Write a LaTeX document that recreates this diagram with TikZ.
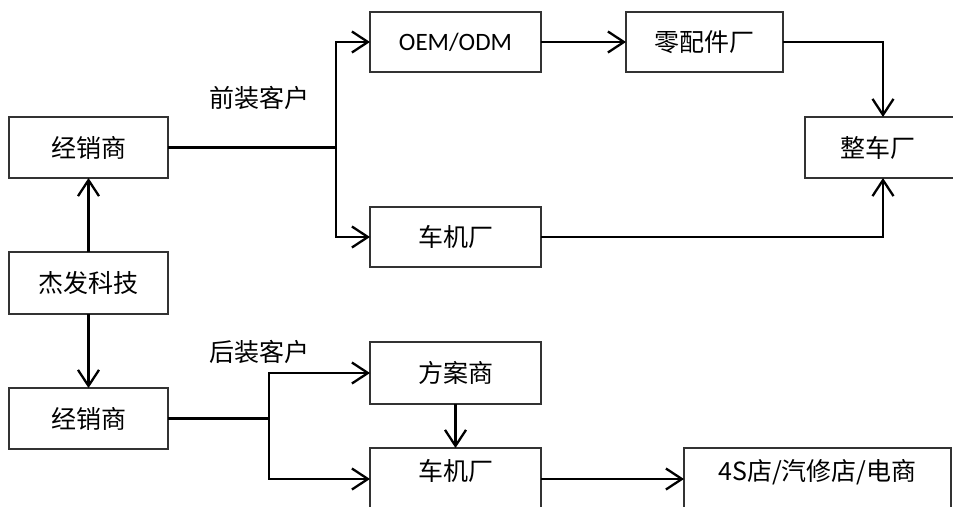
\documentclass[tikz,border=0pt]{standalone}
\usepackage{fontspec}
\setmainfont{Noto Sans CJK SC}
\newfontfamily\latinf{Carlito}
\usetikzlibrary{arrows.meta,calc}
\tikzset{
  box/.style={draw=black!80, line width=1.3pt, inner sep=0pt, outer sep=0pt, font=\fontsize{25}{30}\selectfont, anchor=center},
  arr/.style={line width=2.3pt, -{Straight Barb[length=16pt,width=21pt,line width=2.3pt]}},
  conn/.style={line width=2.3pt},
  lbl/.style={font=\fontsize{25}{30}\selectfont, inner sep=0pt}
}
\begin{document}
\begin{tikzpicture}[x=1pt,y=-1pt]
\useasboundingbox (0,0) rectangle (953,506);
\clip (0,0) rectangle (953,506);
% boxes
\node[box, minimum width=159pt, minimum height=61pt] (d1) at (88.5,147.5) {经销商};
\node[box, minimum width=159pt, minimum height=62pt] (jf) at (88.5,283) {杰发科技};
\node[box, minimum width=159pt, minimum height=61pt] (d2) at (88.5,418.5) {经销商};
\node[box, minimum width=171pt, minimum height=60pt] (oem) at (455.5,42) {\latinf OEM/ODM};
\node[box, minimum width=157pt, minimum height=60pt] (lpj) at (704.5,42) {零配件厂};
\node[box, minimum width=156pt, minimum height=61pt] (zc) at (883,147.5) {\hspace*{-10pt}整车厂};
\node[box, minimum width=171pt, minimum height=60pt] (cj1) at (455.5,237) {车机厂};
\node[box, minimum width=171pt, minimum height=62pt] (fa) at (455.5,373) {方案商};
\node[box, minimum width=171pt, minimum height=62pt, text depth=18pt] (cj2) at (455.5,479) {车机厂};
\node[box, minimum width=267pt, minimum height=62pt, text depth=18pt] (s4) at (817.5,479) {4S店/汽修店/电商};
% labels
\node[lbl] (l1) at (259,98) {前装客户};
\node[lbl] (l2) at (259,352) {后装客户};
% branch points
\coordinate (b1) at (336,147.5);
\coordinate (b2) at (269,418.5);
% connectors
\draw[arr] (jf.north) -- (d1.south);
\draw[arr] (jf.south) -- (d2.north);
\draw[conn] (d1.east) -- (b1);
\draw[arr] (b1) |- (oem.west);
\draw[arr] (b1) |- (cj1.west);
\draw[arr] (oem.east) -- (lpj.west);
\draw[arr] (lpj.east) -| (zc.north);
\draw[arr] (cj1.east) -| (zc.south);
\draw[conn] (d2.east) -- (b2);
\draw[arr] (b2) |- (fa.west);
\draw[arr] (b2) |- (cj2.west);
\draw[arr] (fa.south) -- (cj2.north);
\draw[arr] (cj2.east) -- (s4.west);
\end{tikzpicture}
\end{document}
